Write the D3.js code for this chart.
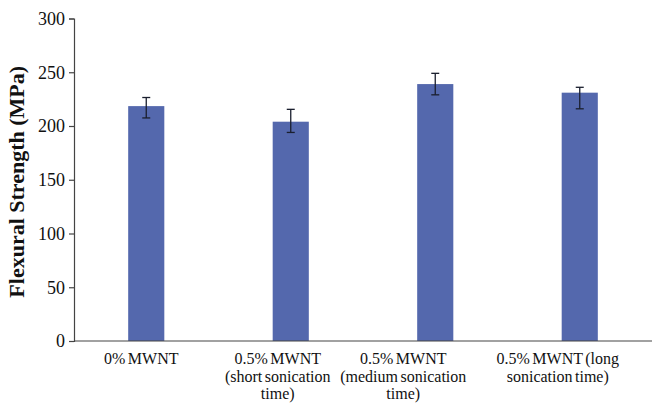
<!DOCTYPE html>
<html><head><meta charset="utf-8">
<script src="https://cdn.jsdelivr.net/npm/d3@7"></script>
<style>body{margin:0;background:#fff}svg{display:block}text{font-family:"Liberation Serif","Times New Roman",serif}</style>
</head><body><svg id="c" width="652" height="405"></svg>
<script>
const categories = ["0% MWNT", "0.5% MWNT (short sonication time)", "0.5% MWNT (medium sonication time)", "0.5% MWNT (long sonication time)"];
const labelLines = [["0% MWNT"], ["0.5% MWNT", "(short sonication", "time)"], ["0.5% MWNT", "(medium sonication", "time)"], ["0.5% MWNT (long", "sonication time)"]];
const values = [218.5, 204, 239, 231];
const errUp = [8, 11.5, 10, 5];
const errDown = [11, 10, 10, 15];
const yTicks = [0, 50, 100, 150, 200, 250, 300];

const W = 652, H = 405;
const m = {l: 74, r: 0, t: 18.5, b: 64};
const labelShift = [-5, -13, -32, -22];
const svg = d3.select("#c");
const x = d3.scaleBand().domain(categories).range([m.l, W - m.r]).paddingInner(0).paddingOuter(0);
const y = d3.scaleLinear().domain([0, 300]).range([H - m.b, m.t]);
const bw = x.bandwidth() * 0.25;
const font = "'Liberation Serif', 'Times New Roman', serif";

svg.append("g").selectAll("rect").data(categories).join("rect")
  .attr("x", d => x(d) + x.bandwidth()/2 - bw/2)
  .attr("y", (d,i) => y(values[i]))
  .attr("width", bw)
  .attr("height", (d,i) => y(0) - y(values[i]))
  .attr("fill", "#5468ad");

const eb = svg.append("g").attr("stroke", "#1a1f2e").attr("stroke-width", 1.3);
categories.forEach((c,i) => {
  const cx = x(c) + x.bandwidth()/2;
  const t = y(values[i] + errUp[i]), b = y(values[i] - errDown[i]);
  eb.append("line").attr("x1", cx).attr("x2", cx).attr("y1", t).attr("y2", b);
  eb.append("line").attr("x1", cx-4).attr("x2", cx+4).attr("y1", t).attr("y2", t);
  eb.append("line").attr("x1", cx-4).attr("x2", cx+4).attr("y1", b).attr("y2", b);
});

const ya = svg.append("g").attr("transform", `translate(${m.l},0)`)
  .call(d3.axisLeft(y).tickValues(yTicks).tickSize(5).tickPadding(4));
ya.attr("font-family", null);
ya.select(".domain").attr("stroke", "#444").attr("stroke-width", 1.2);
ya.selectAll(".tick line").attr("stroke", "#444").attr("stroke-width", 1.2);
ya.selectAll("text").style("font-family", font).style("font-size", "18px").attr("fill", "#111");

svg.append("line").attr("x1", m.l).attr("x2", W).attr("y1", y(0)).attr("y2", y(0))
  .attr("stroke", "#444").attr("stroke-width", 1.2);

const lg = svg.append("g").attr("fill", "#111").attr("text-anchor", "middle");
categories.forEach((c,i) => {
  const cx = x(c) + x.bandwidth()/2 + labelShift[i];
  labelLines[i].forEach((ln, j) => {
    lg.append("text").style("font-family", font).style("font-size", "16px")
      .style("word-spacing", "-1.5px")
      .attr("x", cx).attr("y", y(0) + 23 + j*17.5).text(ln);
  });
});

svg.append("text").attr("transform", `translate(24,${(m.t + y(0))/2 + 2}) rotate(-90)`)
  .attr("text-anchor", "middle").style("font-family", font).style("font-weight", "bold")
  .style("font-size", "22px").attr("fill", "#111").text("Flexural Strength (MPa)");
</script></body></html>
